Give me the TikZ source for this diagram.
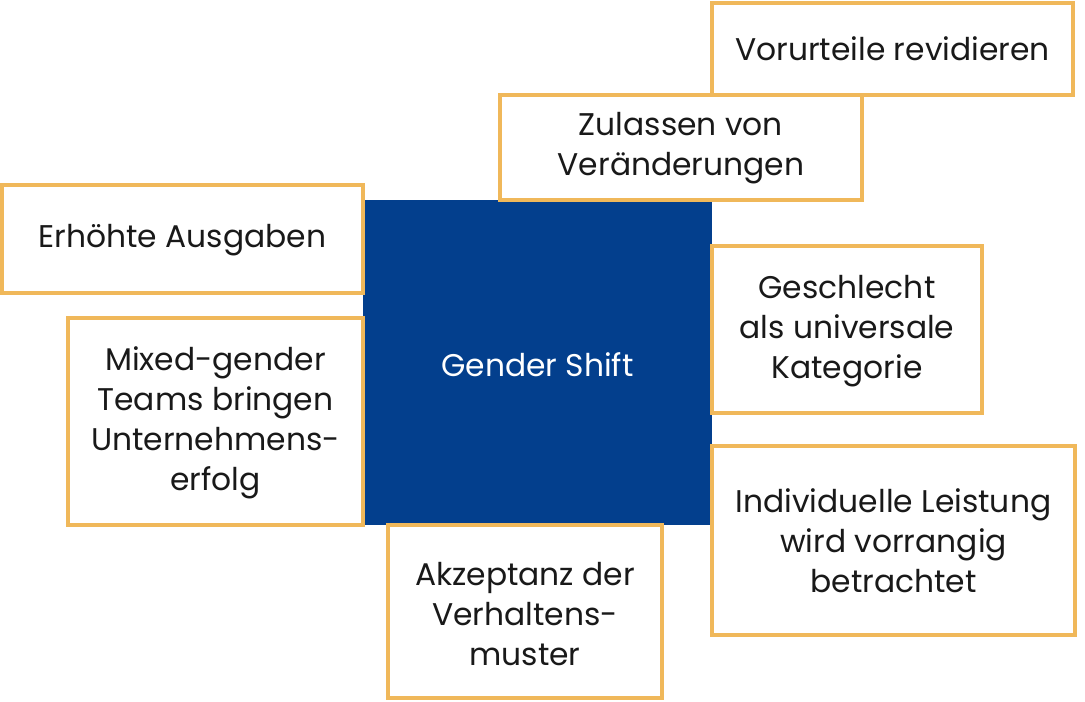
\documentclass[tikz,border=0pt]{standalone}
\usepackage{fontspec}
\setmainfont{Poppins}
\definecolor{gold}{HTML}{F0B85A}
\definecolor{navy}{HTML}{033F8D}
\begin{document}
\begin{tikzpicture}[x=0.75pt,y=-0.75pt,
  box/.style={draw=gold,line width=3pt,fill=white},
  lbl/.style={align=center,font=\fontsize{23.5}{30}\selectfont,text=black!90}]
\useasboundingbox (0,0) rectangle (1085,701);
\fill[navy] (363,200) rectangle (712,525);
\node[lbl,text=white] (gs) at (537.5,365) {Gender Shift};
\draw[box] (712,3) rectangle (1073,95);
\node[lbl] (v) at (892.5,49) {Vorurteile revidieren};
\draw[box] (500,95) rectangle (862,200);
\node[lbl] (z) at (681,148) {Zulassen von\\Veränderungen};
\draw[box] (2,185) rectangle (363,293);
\node[lbl] (e) at (182.5,240) {Erhöhte Ausgaben};
\draw[box] (712,246) rectangle (982,413);
\node[lbl] (g) at (847,331) {Geschlecht\\als universale\\Kategorie};
\draw[box] (68,318) rectangle (363,525);
\node[lbl] (m) at (215.5,423) {Mixed-gender\\Teams bringen\\Unternehmens-\\erfolg};
\draw[box] (712,446) rectangle (1075,635);
\node[lbl] (i) at (893.5,541) {Individuelle Leistung\\wird vorrangig\\betrachtet};
\draw[box] (388,525) rectangle (662,698);
\node[lbl] (a) at (525,614) {Akzeptanz der\\Verhaltens-\\muster};
\end{tikzpicture}
\end{document}
